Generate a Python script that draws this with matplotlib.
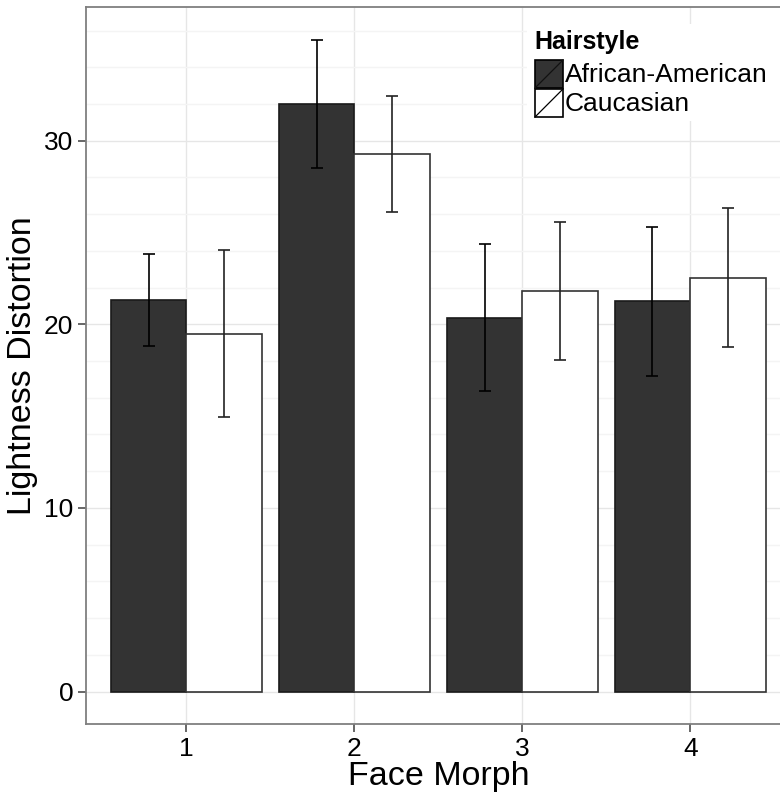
import matplotlib
matplotlib.use("Agg")
import matplotlib.pyplot as plt
from matplotlib.patches import Rectangle
from matplotlib.lines import Line2D
import numpy as np

plt.rcParams['font.family'] = ['Liberation Sans', 'DejaVu Sans']

morphs = ["1", "2", "3", "4"]
hairstyles = ["African-American", "Caucasian"]
aa_mean = [21.33, 32.0, 20.35, 21.25]
aa_err = [2.5, 3.5, 4.0, 4.06]
cau_mean = [19.5, 29.3, 21.8, 22.55]
cau_err = [4.57, 3.16, 3.75, 3.78]

W, H = 780, 797
fig = plt.figure(figsize=(W / 100, H / 100), dpi=100)
# panel: left 85.7px, x=4.6 lands at 791px (cropped), top 7.3px, bottom 724px
ax = fig.add_axes([85.7 / W, 1 - 724 / H, (791 - 85.7) / W, (724 - 7.3) / H])

x = np.arange(1, len(morphs) + 1)
bw = 0.45
ax.bar(x - bw / 2, aa_mean, width=bw, color="#333333", edgecolor="#1a1a1a",
       linewidth=1.2, zorder=3)
ax.bar(x + bw / 2, cau_mean, width=bw, color="white", edgecolor="#333333",
       linewidth=1.2, zorder=3)
ax.errorbar(x - bw / 2, aa_mean, yerr=aa_err, fmt="none", ecolor="black",
            elinewidth=1.2, capsize=4.6, capthick=1.2, zorder=4)
ax.errorbar(x + bw / 2, cau_mean, yerr=cau_err, fmt="none", ecolor="#222222",
            elinewidth=1.2, capsize=4.6, capthick=1.2, zorder=4)

ax.set_xlim(0.4, 4.6)
ax.set_ylim(-1.77, 37.27)
ax.set_xticks(x)
ax.set_xticklabels(morphs)
ax.set_yticks([0, 10, 20, 30])
ax.set_yticks(np.arange(0, 37, 2), minor=True)
ax.tick_params(axis="both", which="major", length=5.5, width=1.2,
               color="#4d4d4d", labelsize=19, labelcolor="black", pad=3.5)
ax.tick_params(axis="y", which="minor", length=0)
ax.grid(True, which="major", color="#e6e6e6", linewidth=1.0, zorder=0)
ax.grid(True, which="minor", axis="y", color="#f4f4f4", linewidth=1.0, zorder=0)
ax.set_axisbelow(True)
for s in ax.spines.values():
    s.set_color("#7f7f7f")
    s.set_linewidth(1.3)

ax.set_xlabel("Face Morph", fontsize=24.5, labelpad=0)
ax.set_ylabel("Lightness Distortion", fontsize=24.5, labelpad=4)

# legend (ggplot style with slash in keys), drawn in figure pixels
def fx(px):
    return px / W

def fy(py):
    return 1 - py / H

fig.patches.append(Rectangle((fx(527), fy(121)), fx(780) - fx(527), fy(24) - fy(121),
                             transform=fig.transFigure, facecolor="white",
                             edgecolor="none", zorder=5))
fig.text(fx(534), fy(42), "Hairstyle", fontsize=18, fontweight="bold",
         va="center", ha="left", zorder=6)
key_fill = ["#333333", "white"]
for i, (lab, fc) in enumerate(zip(hairstyles, key_fill)):
    top = 60 + i * 29
    fig.patches.append(Rectangle((fx(535), fy(top + 28)), fx(28), fy(0) - fy(28),
                                 transform=fig.transFigure, facecolor=fc,
                                 edgecolor="black", linewidth=1.2, zorder=6))
    fig.lines.append(Line2D([fx(535), fx(563)], [fy(top + 28), fy(top)],
                            transform=fig.transFigure,
                            color="black" if i == 1 else "#111111",
                            linewidth=0.9, zorder=7))
    fig.text(fx(565), fy(top + 15), lab, fontsize=19, va="center", ha="left",
             zorder=7)

fig.savefig("out.png", dpi=100)
